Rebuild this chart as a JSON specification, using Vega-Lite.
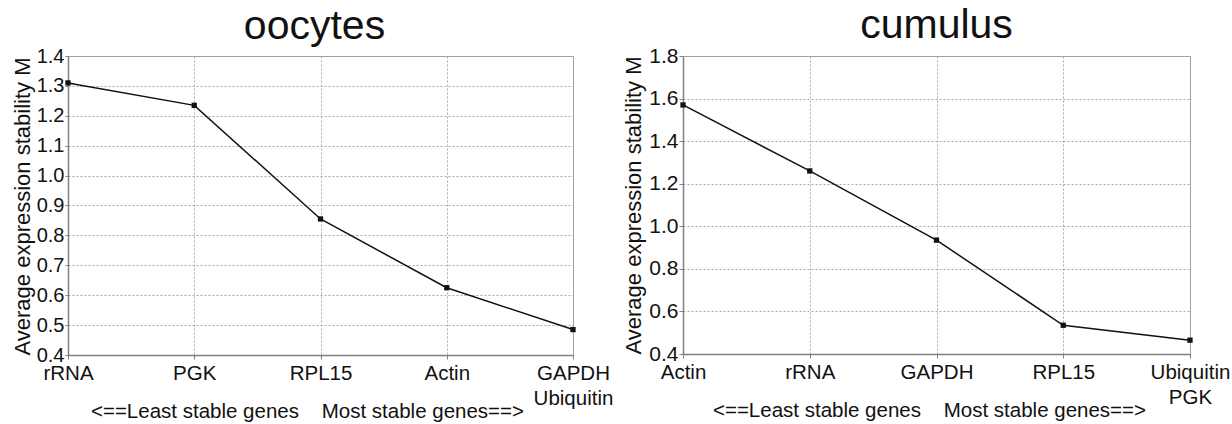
{
  "$schema": "https://vega.github.io/schema/vega-lite/v6.json",
  "background": "white",
  "bounds": "flush",
  "padding": {"left": 10, "top": 4, "right": 0, "bottom": 0},
  "spacing": 110,
  "config": {
    "font": "Liberation Sans",
    "view": {"stroke": "#999999", "strokeWidth": 1},
    "axis": {
      "labelFont": "Liberation Sans",
      "titleFont": "Liberation Sans",
      "labelColor": "#111111",
      "titleColor": "#111111",
      "titleFontWeight": "normal",
      "domainColor": "#808080",
      "domainWidth": 1.5,
      "tickColor": "#808080",
      "gridColor": "#aaaaaa",
      "gridDash": [2, 2],
      "gridWidth": 1
    },
    "title": {"font": "Liberation Sans", "fontWeight": "normal", "fontSize": 41, "color": "#111111", "anchor": "middle", "baseline": "alphabetic", "offset": -2}
  },
  "datasets": {
    "oocytes": [
      {"gene": "rRNA", "M": 1.31},
      {"gene": "PGK", "M": 1.235},
      {"gene": "RPL15", "M": 0.855},
      {"gene": "Actin", "M": 0.625},
      {"gene": "GAPDH|Ubiquitin", "M": 0.485}
    ],
    "cumulus": [
      {"gene": "Actin", "M": 1.57},
      {"gene": "rRNA", "M": 1.26},
      {"gene": "GAPDH", "M": 0.935},
      {"gene": "RPL15", "M": 0.535},
      {"gene": "Ubiquitin|PGK", "M": 0.465}
    ]
  },
  "hconcat": [
    {
      "title": {"text": "oocytes", "dx": -6},
      "width": 505,
      "height": 299,
      "data": {"name": "oocytes"},
      "encoding": {
        "x": {
          "field": "gene", "type": "ordinal", "sort": null,
          "scale": {"type": "point", "padding": 0},
          "axis": {
            "title": "<==Least stable genes\u00a0\u00a0\u00a0\u00a0Most stable genes==>",
            "titleFontSize": 20.5, "titleX": 239, "titleY": 62,
            "titleAlign": "center", "titleBaseline": "alphabetic",
            "labelAngle": 0, "labelFontSize": 20.5, "labelPadding": 4,
            "labelLineHeight": 25, "labelBaseline": "top",
            "labelExpr": "split(datum.label, '|')",
            "grid": true, "tickSize": 4
          }
        },
        "y": {
          "field": "M", "type": "quantitative",
          "scale": {"domain": [0.4, 1.4], "nice": false, "zero": false},
          "axis": {
            "title": "Average expression stability M",
            "titleFontSize": 22, "titleX": -46, "titleY": 150,
            "titleAlign": "center", "titleBaseline": "middle", "titleAngle": 270,
            "labelFontSize": 20, "format": ".1f",
            "values": [0.4, 0.5, 0.6, 0.7, 0.8, 0.9, 1.0, 1.1, 1.2, 1.3, 1.4],
            "tickSize": 3, "labelPadding": 1
          }
        }
      },
      "layer": [
        {"mark": {"type": "line", "color": "#111111", "strokeWidth": 1.5}},
        {"mark": {"type": "square", "color": "#111111", "opacity": 1, "size": 28, "filled": true}}
      ]
    },
    {
      "title": "cumulus",
      "width": 507,
      "height": 298,
      "data": {"name": "cumulus"},
      "encoding": {
        "x": {
          "field": "gene", "type": "ordinal", "sort": null,
          "scale": {"type": "point", "padding": 0},
          "axis": {
            "title": "<==Least stable genes\u00a0\u00a0\u00a0\u00a0Most stable genes==>",
            "titleFontSize": 20.5, "titleX": 246, "titleY": 62,
            "titleAlign": "center", "titleBaseline": "alphabetic",
            "labelAngle": 0, "labelFontSize": 20.5, "labelPadding": 4,
            "labelLineHeight": 25, "labelBaseline": "top",
            "labelExpr": "split(datum.label, '|')",
            "grid": true, "tickSize": 4
          }
        },
        "y": {
          "field": "M", "type": "quantitative",
          "scale": {"domain": [0.4, 1.8], "nice": false, "zero": false},
          "axis": {
            "title": "Average expression stability M",
            "titleFontSize": 22, "titleX": -50, "titleY": 149,
            "titleAlign": "center", "titleBaseline": "middle", "titleAngle": 270,
            "labelFontSize": 21, "format": ".1f",
            "values": [0.4, 0.6, 0.8, 1.0, 1.2, 1.4, 1.6, 1.8],
            "tickSize": 4, "labelPadding": 1
          }
        }
      },
      "layer": [
        {"mark": {"type": "line", "color": "#111111", "strokeWidth": 1.5}},
        {"mark": {"type": "square", "color": "#111111", "opacity": 1, "size": 28, "filled": true}}
      ]
    }
  ]
}
